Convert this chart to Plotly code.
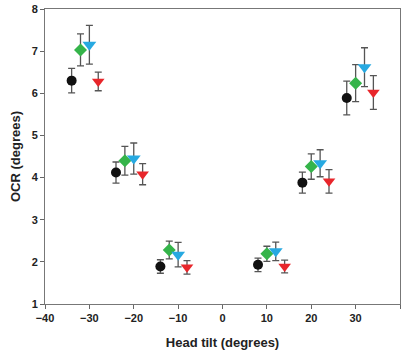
import plotly.graph_objects as go

# Data
black_x = [-34, -24, -14, 8, 18, 28]
black_y = [6.30, 4.12, 1.89, 1.93, 3.88, 5.89]
black_e = [0.29, 0.25, 0.16, 0.16, 0.25, 0.40]

green_x = [-32, -22, -12, 10, 20, 30]
green_y = [7.03, 4.40, 2.28, 2.19, 4.26, 6.24]
green_e = [0.38, 0.34, 0.21, 0.18, 0.30, 0.44]

blue_x = [-30, -20, -10, 12, 22, 32]
blue_y = [7.15, 4.45, 2.17, 2.25, 4.34, 6.62]
blue_e = [0.46, 0.37, 0.29, 0.22, 0.32, 0.46]

red_x = [-28, -18, -8, 14, 24, 34]
red_y = [6.28, 4.08, 1.87, 1.89, 3.91, 6.02]
red_e = [0.22, 0.25, 0.16, 0.15, 0.28, 0.40]

x_ticks = [-40, -30, -20, -10, 0, 10, 20, 30, 40]
y_ticks = [1, 2, 3, 4, 5, 6, 7, 8]

series = [
    (black_x, black_y, black_e, "#111111", "circle", 10),
    (green_x, green_y, green_e, "#35b44a", "diamond", 10),
    (blue_x, blue_y, blue_e, "#27a9e1", "triangle-down", 12),
    (red_x, red_y, red_e, "#e8262b", "triangle-down", 11),
]

fig = go.Figure()
for xs, ys, es, col, sym, sz in series:
    fig.add_trace(go.Scatter(
        x=xs, y=ys, mode="markers",
        marker=dict(color=col, symbol=sym, size=sz, line=dict(width=0)),
        error_y=dict(type="data", array=es, visible=True,
                     color="#555555", thickness=1.3, width=3.5),
        showlegend=False,
    ))

font_fam = "Liberation Sans, Arial, sans-serif"
fig.update_layout(
    width=403, height=354,
    margin=dict(l=45, r=3, t=9, b=50),
    paper_bgcolor="white", plot_bgcolor="white",
    font=dict(family=font_fam, color="#222222"),
    xaxis=dict(
        range=[-40, 40], tickmode="array", tickvals=x_ticks,
        ticks="outside", ticklen=4, tickcolor="#666666",
        showgrid=False, zeroline=False,
        showline=True, linecolor="#777777", linewidth=1, mirror=True,
        tickfont=dict(size=11, family=font_fam, weight="bold"),
        title=dict(text="<b>Head tilt (degrees)</b>", font=dict(size=13), standoff=14),
    ),
    yaxis=dict(
        range=[1, 8], tickmode="array", tickvals=y_ticks,
        ticks="outside", ticklen=4, tickcolor="#666666",
        showgrid=False, zeroline=False,
        showline=True, linecolor="#777777", linewidth=1, mirror=True,
        tickfont=dict(size=11, family=font_fam, weight="bold"),
        title=dict(text="<b>OCR (degrees)</b>", font=dict(size=13), standoff=8),
    ),
)

fig.write_html("out.html", config={"displayModeBar": False},
               post_script="document.body.style.margin='0';")
